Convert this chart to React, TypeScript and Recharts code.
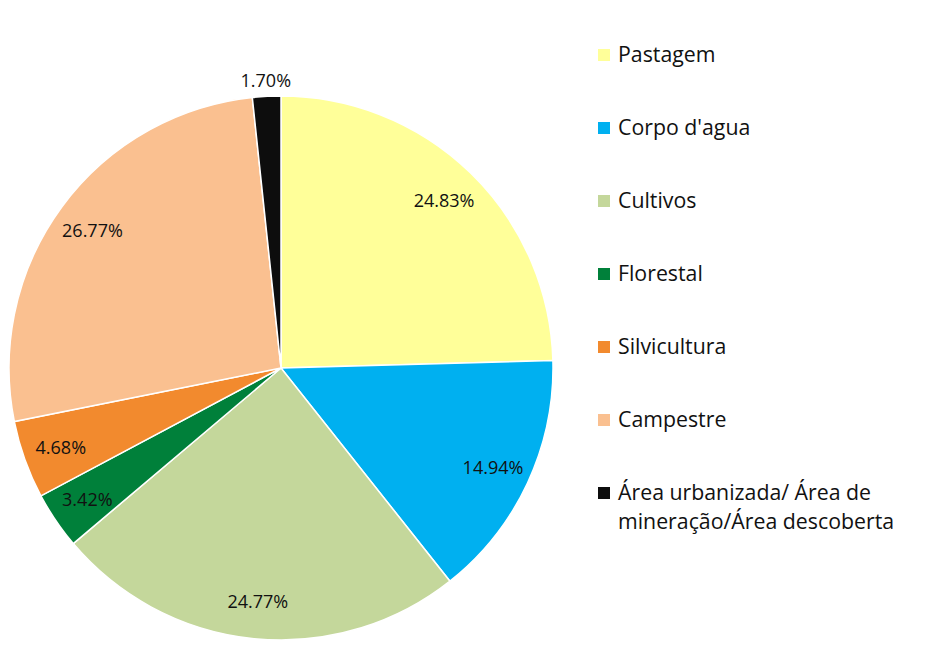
import { PieChart, Pie, Cell, Legend } from "recharts";

const categories = [
  "Pastagem",
  "Corpo d'agua",
  "Cultivos",
  "Florestal",
  "Silvicultura",
  "Campestre",
  "Área urbanizada/ Área de mineração/Área descoberta",
];
const shares = [24.83, 14.94, 24.77, 3.42, 4.68, 26.77, 1.7];
const COLORS = ["#FFFF99", "#00B0F0", "#C4D79B", "#00803A", "#F28A2E", "#FAC090", "#0D0D0D"];

const data = categories.map((name, i) => ({ name, value: shares[i] }));

const RAD = Math.PI / 180;
const FONT = "'Open Sans', sans-serif";

const renderLabel = ({ cx, cy, midAngle, outerRadius, value }: any) => {
  // small slices get their label just outside the pie
  const r = value < 2 ? outerRadius + 16 : outerRadius * 0.86;
  const x = cx + r * Math.cos(-midAngle * RAD);
  const y = cy + r * Math.sin(-midAngle * RAD);
  return (
    <text x={x} y={y} textAnchor="middle" dominantBaseline="central" fill="#111" fontSize={18} fontFamily={FONT}>
      {value.toFixed(2)}%
    </text>
  );
};

const LegendContent = () => (
  <div style={{ fontFamily: FONT, fontSize: 21.3, color: "#111" }}>
    {categories.map((c, i) => (
      <div key={c} style={{ display: "flex", alignItems: "flex-start", height: 73 }}>
        <span style={{ width: 12, height: 12, background: COLORS[i], marginTop: 9, marginRight: 8, flexShrink: 0 }} />
        <span style={{ lineHeight: "29px", width: 310, marginTop: -1 }}>
          {i === 6 ? (<>Área urbanizada/ Área de<br />mineração/Área descoberta</>) : c}
        </span>
      </div>
    ))}
  </div>
);

export default function App() {
  return (
    <div style={{ position: "absolute", left: 0, top: 0, background: "#fff" }}>
      <PieChart width={926} height={661}>
        <Pie
          data={data}
          dataKey="value"
          nameKey="name"
          cx={276}
          cy={363}
          outerRadius={272}
          startAngle={90}
          endAngle={-270}
          stroke="#fff"
          strokeWidth={1.5}
          label={renderLabel}
          labelLine={false}
          isAnimationActive={false}
        >
          {data.map((_, i) => <Cell key={i} fill={COLORS[i]} />)}
        </Pie>
        <Legend
          layout="vertical"
          content={<LegendContent />}
          wrapperStyle={{ position: "absolute", left: 598, top: 40, width: 320 }}
        />
      </PieChart>
    </div>
  );
}
